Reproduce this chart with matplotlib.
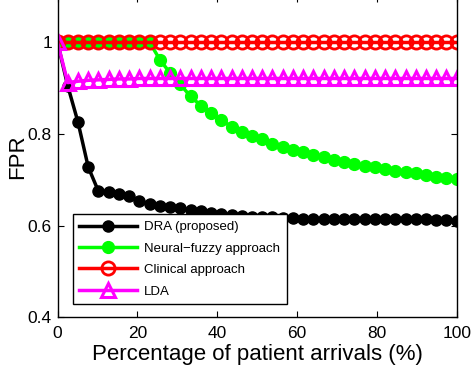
import numpy as np
import matplotlib
matplotlib.use("Agg")
import matplotlib.pyplot as plt

plt.rcParams.update({
    "font.family": ["Liberation Sans", "DejaVu Sans"],
    "axes.linewidth": 1.0,
})

# =============================================================================
# Data
# =============================================================================
x_pct = np.linspace(0, 100, 40)   # percentage of patient arrivals

fpr_dra = [1.000, 0.905, 0.826, 0.728, 0.675, 0.673, 0.670, 0.664, 0.653, 0.648,
           0.644, 0.641, 0.638, 0.634, 0.631, 0.628, 0.626, 0.624, 0.622, 0.620,
           0.619, 0.618, 0.617, 0.616, 0.615, 0.615, 0.614, 0.615, 0.614, 0.614,
           0.615, 0.614, 0.614, 0.615, 0.614, 0.614, 0.615, 0.613, 0.613, 0.610]

fpr_neural_fuzzy = [1.000, 1.000, 1.000, 1.000, 1.000, 1.000, 1.000, 1.000, 1.000, 1.000,
                    0.962, 0.933, 0.908, 0.882, 0.862, 0.846, 0.830, 0.816, 0.804, 0.795,
                    0.790, 0.779, 0.772, 0.764, 0.760, 0.755, 0.749, 0.744, 0.739, 0.735,
                    0.731, 0.728, 0.723, 0.719, 0.717, 0.714, 0.710, 0.707, 0.704, 0.701]

fpr_clinical = [1.000] * 40

fpr_lda = [1.000, 0.912, 0.915, 0.917, 0.918, 0.919, 0.920, 0.920, 0.921, 0.921,
           0.921, 0.921, 0.921, 0.921, 0.921, 0.921, 0.921, 0.921, 0.921, 0.921,
           0.921, 0.921, 0.921, 0.921, 0.921, 0.921, 0.921, 0.921, 0.921, 0.921,
           0.921, 0.921, 0.921, 0.921, 0.921, 0.921, 0.921, 0.921, 0.921, 0.921]

labels = ["DRA (proposed)", "Neural\u2212fuzzy approach", "Clinical approach", "LDA"]

# =============================================================================
# Figure
# =============================================================================
W, H = 474, 381
fig = plt.figure(figsize=(W / 100, H / 100), dpi=100)
ax = fig.add_axes([57.5 / W, (H - 317.4) / H, (456.7 - 57.5) / W, 321.0 / H])

lw = 2.5
ax.plot(x_pct, fpr_dra, color="k", lw=lw, marker="o", ms=8,
        mfc="k", mec="k", label=labels[0])
ax.plot(x_pct, fpr_neural_fuzzy, color=(0, 1, 0), lw=lw, marker="o", ms=8.5,
        mfc=(0, 1, 0), mec=(0, 1, 0), label=labels[1])
ax.plot(x_pct, fpr_clinical, color=(1, 0, 0), lw=lw, marker="o", ms=9.5,
        mfc="none", mec=(1, 0, 0), mew=2, label=labels[2])
ax.plot(x_pct, fpr_lda, color=(1, 0, 1), lw=lw, marker="^", ms=9.5,
        mfc="none", mec=(1, 0, 1), mew=2.2, label=labels[3])

ax.set_xlim(0, 100)
ax.set_ylim(0.4, 1.1)
ax.set_xticks([0, 20, 40, 60, 80, 100])
ax.set_yticks([0.4, 0.6, 0.8, 1.0])
ax.set_yticklabels(["0.4", "0.6", "0.8", "1"])
ax.tick_params(direction="in", top=True, right=True, length=4, width=0.8,
               labelsize=12.5)
ax.tick_params(axis="x", pad=6)
ax.tick_params(axis="y", pad=4)

ax.set_xlabel("Percentage of patient arrivals (%)", fontsize=16, labelpad=2)
ax.set_ylabel("FPR", fontsize=16, labelpad=0)

leg = ax.legend(loc="upper left", bbox_to_anchor=(72.7 / W, 1 - 214.3 / H),
                bbox_transform=fig.transFigure, borderaxespad=0,
                fontsize=9.5, handlelength=4.4, handletextpad=0.5,
                borderpad=0.5, labelspacing=0.7, fancybox=False,
                framealpha=1, edgecolor="k")
leg.get_frame().set_linewidth(1.0)

fig.savefig("out.png", dpi=100)
